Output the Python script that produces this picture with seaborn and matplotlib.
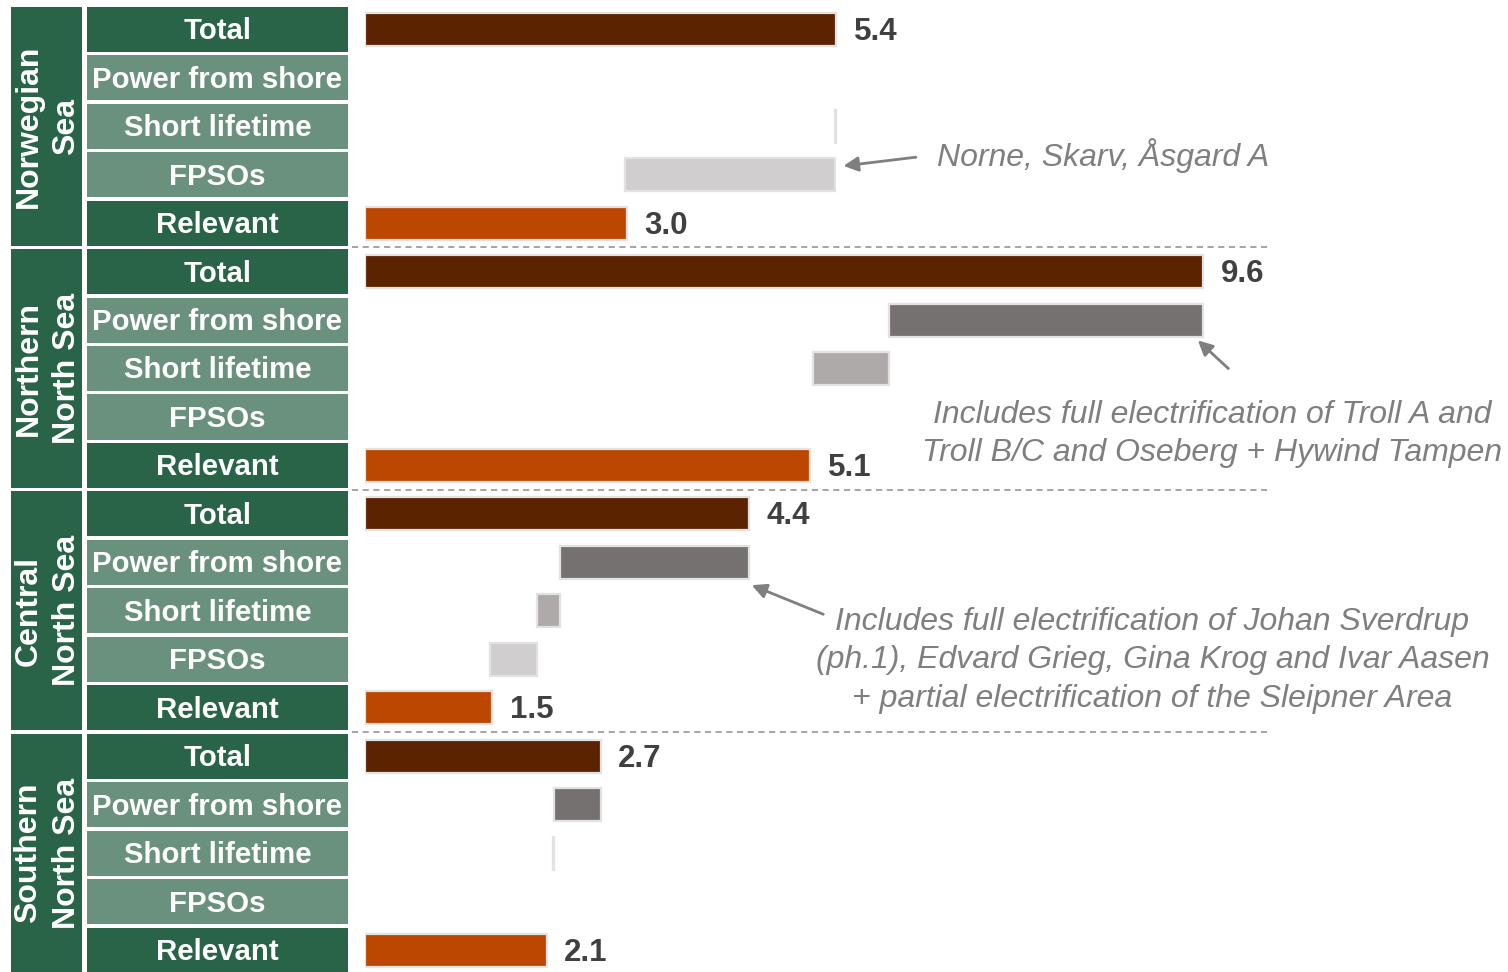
import numpy as np
import pandas as pd
import seaborn as sns
import matplotlib.pyplot as plt
from matplotlib.patches import Rectangle

# ---------------- data ----------------
regions = ["Norwegian\nSea", "Northern\nNorth Sea", "Central\nNorth Sea", "Southern\nNorth Sea"]
steps = ["Total", "Power from shore", "Short lifetime", "FPSOs", "Relevant"]
total = [5.4, 9.6, 4.4, 2.7]
power_from_shore = [0.0, 3.6, 2.17, 0.53]
short_lifetime = [0.02, 0.87, 0.26, 0.02]
fpsos = [2.4, 0.0, 0.54, 0.0]
relevant = [3.0, 5.1, 1.46, 2.08]

notes = [
    "Norne, Skarv, Åsgard A",
    "Includes full electrification of Troll A and\nTroll B/C and Oseberg + Hywind Tampen",
    "Includes full electrification of Johan Sverdrup\n(ph.1), Edvard Grieg, Gina Krog and Ivar Aasen\n+ partial electrification of the Sleipner Area",
]

colors = {
    "Total": "#5c2300",
    "Power from shore": "#767171",
    "Short lifetime": "#aeaaaa",
    "FPSOs": "#d0cece",
    "Relevant": "#bb4700",
}
DARK_GREEN = "#2a6448"
LIGHT_GREEN = "#6a917e"
TXT = "#404040"
NOTE = "#7f7f7f"

# ---------------- table ----------------
rec = []
for g, reg in enumerate(regions):
    t = total[g]
    s_pfs = t - power_from_shore[g]
    s_sl = s_pfs - short_lifetime[g]
    s_fp = s_sl - fpsos[g]
    vals = [total[g], power_from_shore[g], short_lifetime[g], fpsos[g], relevant[g]]
    starts = [0.0, s_pfs, s_sl, s_fp, 0.0]
    for k, st in enumerate(steps):
        rec.append(dict(row=f"{g}-{st}", region=reg, step=st,
                        value=vals[k] if vals[k] > 0 else np.nan, start=starts[k]))
df = pd.DataFrame(rec)
order = list(df["row"])
start_of = dict(zip(range(len(order)), df["start"]))

sns.set_theme(style="white")
plt.rcParams["font.family"] = ["Liberation Sans", "DejaVu Sans"]

W, H = 1508, 972
fig = plt.figure(figsize=(W / 100, H / 100), dpi=100)
x0 = 365
ppu = 87.3
xmax = (W - 8 - x0) / ppu
ax = fig.add_axes([x0 / W, 0.0, (W - 8 - x0) / W, 967 / H])
ylim = (19.45, -0.5)

sns.barplot(data=df.dropna(subset=["value"]), x="value", y="row", hue="step",
            order=order, hue_order=steps, palette=colors, dodge=False,
            saturation=1, width=0.68, edgecolor="#e2e2e2", linewidth=1.6,
            legend=False, orient="h", ax=ax)
for p in ax.patches:
    i = int(round(p.get_y() + p.get_height() / 2))
    p.set_x(start_of[i])

ax.set_xlim(0, xmax)
ax.set_ylim(*ylim)
ax.axis("off")

# value labels
for g in range(4):
    for k, v in ((0, total[g]), (4, relevant[g])):
        ax.text(v + 0.2, g * 5 + k + 0.05, f"{v:.1f}", ha="left", va="center",
                fontsize=22.5, fontweight="bold", color=TXT)

# separators
for g in range(1, 4):
    ax.plot([-0.15, 10.37], [g * 5 - 0.5] * 2, ls=(0, (4, 3)), color="#8c8c8c",
            lw=1.1, clip_on=False)

# annotations
arrow = dict(arrowstyle="-|>", color=NOTE, lw=2, mutation_scale=22, shrinkA=0, shrinkB=0)
ax.text(6.55, 2.6, notes[0], ha="left", va="center", fontsize=23,
        style="italic", color=NOTE)
ax.annotate("", xy=(5.48, 2.82), xytext=(6.31, 2.64), arrowprops=arrow)

ax.text(9.70, 8.35, notes[1], ha="center", va="center", fontsize=23,
        style="italic", color=NOTE, linespacing=1.36)
ax.annotate("", xy=(9.54, 6.42), xytext=(9.89, 7.0), arrowprops=arrow)

ax.text(9.02, 13.02, notes[2], ha="center", va="center", fontsize=23,
        style="italic", color=NOTE, linespacing=1.36)
ax.annotate("", xy=(4.43, 11.47), xytext=(5.25, 12.07), arrowprops=arrow)

# ---------------- label panel ----------------
lab = fig.add_axes([0, 0.0, x0 / W, 967 / H])
lab.set_xlim(0, x0)
lab.set_ylim(*ylim)
lab.axis("off")
bh = 0.93
for g, reg in enumerate(regions):
    top = g * 5 - bh / 2
    lab.add_patch(Rectangle((11, top), 71, 4 + bh, facecolor=DARK_GREEN, edgecolor="none"))
    lab.text(47.5, g * 5 + 2, reg, rotation=90, ha="center", va="center",
             multialignment="center", color="white", fontsize=23,
             fontweight="bold", linespacing=1.35)
    for k, st in enumerate(steps):
        c = DARK_GREEN if k in (0, 4) else LIGHT_GREEN
        y = g * 5 + k
        lab.add_patch(Rectangle((87, y - bh / 2), 261, bh, facecolor=c, edgecolor="none"))
        lab.text(217.5, y + 0.04, st, ha="center", va="center", color="white",
                 fontsize=21.2, fontweight="bold")

fig.savefig("out.png", dpi=100)
